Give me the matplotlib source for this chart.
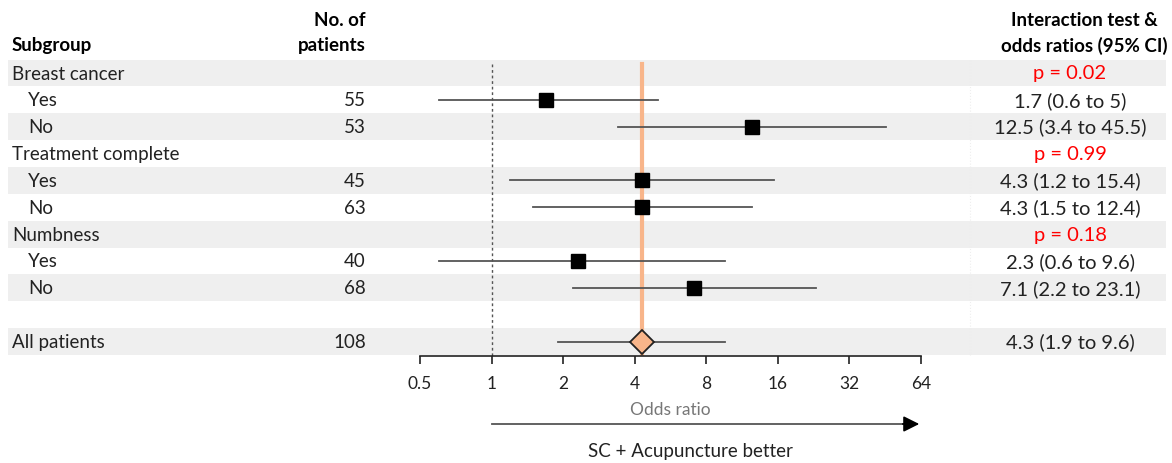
import matplotlib.pyplot as plt
import numpy as np

plt.rcParams['font.family'] = ['Lato', 'DejaVu Sans']

# Data
labels = ['Breast cancer', 'Yes', 'No', 'Treatment complete', 'Yes', 'No',
          'Numbness', 'Yes', 'No', '', 'All patients']
is_header = [True, False, False, True, False, False, True, False, False, False, False]
n_patients = ['', '55', '53', '', '45', '63', '', '40', '68', '', '108']
odds = [None, 1.7, 12.5, None, 4.3, 4.3, None, 2.3, 7.1, None, 4.3]
ci_low = [None, 0.6, 3.4, None, 1.2, 1.5, None, 0.6, 2.2, None, 1.9]
ci_high = [None, 5, 45.5, None, 15.4, 12.4, None, 9.6, 23.1, None, 9.6]
p_values = ['p = 0.02', None, None, 'p = 0.99', None, None, 'p = 0.18', None, None, None, None]
overall_or = 4.3
ticks = [0.5, 1, 2, 4, 8, 16, 32, 64]

W, H = 1172, 464
row0, step = 74, 26.85
fs = 13.5

fig = plt.figure(figsize=(W / 100, H / 100), dpi=100)

# background axes in pixel-x / row-y coordinates
bg = fig.add_axes([0, 0, 1, 1])
bg.set_xlim(0, W)
bg.set_ylim((H - row0) / step, -row0 / step)
bg.axis('off')

for i, lab in enumerate(labels):
    if i % 2 == 0:
        bg.fill_between([8, 1166], i - 0.5, i + 0.5, color='#efefef', lw=0, zorder=0)
    x = 12 if (is_header[i] or lab == 'All patients') else 28
    bg.text(x, i, lab, fontsize=fs, va='center', ha='left', color='#222222')
    if n_patients[i]:
        bg.text(366, i, n_patients[i], fontsize=fs, va='center', ha='right', color='#222222')
    if p_values[i]:
        bg.text(1070, i, p_values[i], fontsize=14.5, va='center', ha='center', color='#ff0000')
    elif odds[i] is not None:
        txt = '%g (%g to %g)' % (odds[i], ci_low[i], ci_high[i])
        bg.text(1070, i, txt, fontsize=14.5, va='center', ha='center', color='#222222')

# headers
hy1, hy2 = (20 - row0) / step, (46 - row0) / step
bg.text(12, hy2, 'Subgroup', fontsize=fs, fontweight='bold', va='center', ha='left')
bg.text(366, hy1, 'No. of', fontsize=fs, fontweight='bold', va='center', ha='right')
bg.text(366, hy2, 'patients', fontsize=fs, fontweight='bold', va='center', ha='right')
bg.text(1084, hy1, 'Interaction test &', fontsize=fs, fontweight='bold', va='center', ha='center')
bg.text(1084, hy2, 'odds ratios (95% CI)', fontsize=fs, fontweight='bold', va='center', ha='center')

# faint separator
bg.plot([970, 970], [-0.5, 10.5], color='#eeeeee', lw=0.8, ls=':', zorder=1)

# forest axes
x0, x1 = 420, 921
ytop, ybot = 60, 357
ax = fig.add_axes([x0 / W, 1 - ybot / H, (x1 - x0) / W, (ybot - ytop) / H])
ax.patch.set_alpha(0)
ax.set_xscale('log', base=2)
ax.set_xlim(0.5, 64)
ax.set_ylim((ybot - row0) / step, (ytop - row0) / step)
for s in ['top', 'left', 'right']:
    ax.spines[s].set_visible(False)
ax.spines['bottom'].set_color('#222222')
ax.spines['bottom'].set_linewidth(1.2)
ax.set_yticks([])
ax.set_xticks(ticks)
ax.set_xticklabels(['%g' % t for t in ticks])
ax.minorticks_off()
ax.tick_params(axis='x', length=6, width=1.2, color='#222222', labelsize=12.5,
               labelcolor='#222222', pad=8)
ax.set_xlabel('Odds ratio', fontsize=12.5, color='#777777', labelpad=7)

ax.plot([1, 1], [-0.34, 20], color='#555555', lw=1, ls=(0, (2, 2)), zorder=1, clip_on=True)
ax.plot([overall_or, overall_or], [-0.34, 20], color='#f8b58a', lw=3, zorder=2)

for i in range(len(labels)):
    if odds[i] is None:
        continue
    ax.plot([ci_low[i], ci_high[i]], [i, i], color='#555555', lw=1.3, zorder=3)
    if labels[i] == 'All patients':
        ax.plot(odds[i], i, marker='D', ms=12, mfc='#f8b58a', mec='#222222', mew=1.3, zorder=4)
    else:
        ax.plot(odds[i], i, marker='s', ms=10, color='black', zorder=4)

# arrow below axis
ay = (425 - row0) / step
bg.plot([492, 905], [ay, ay], color='#555555', lw=1.3)
bg.annotate('', xy=(922, ay), xytext=(900, ay),
            arrowprops=dict(arrowstyle='-|>', color='black', lw=1.2, mutation_scale=24))
bg.text(690, (452 - row0) / step, 'SC + Acupuncture better', fontsize=fs,
        ha='center', va='center', color='#222222')

fig.savefig('out.png', dpi=100)
